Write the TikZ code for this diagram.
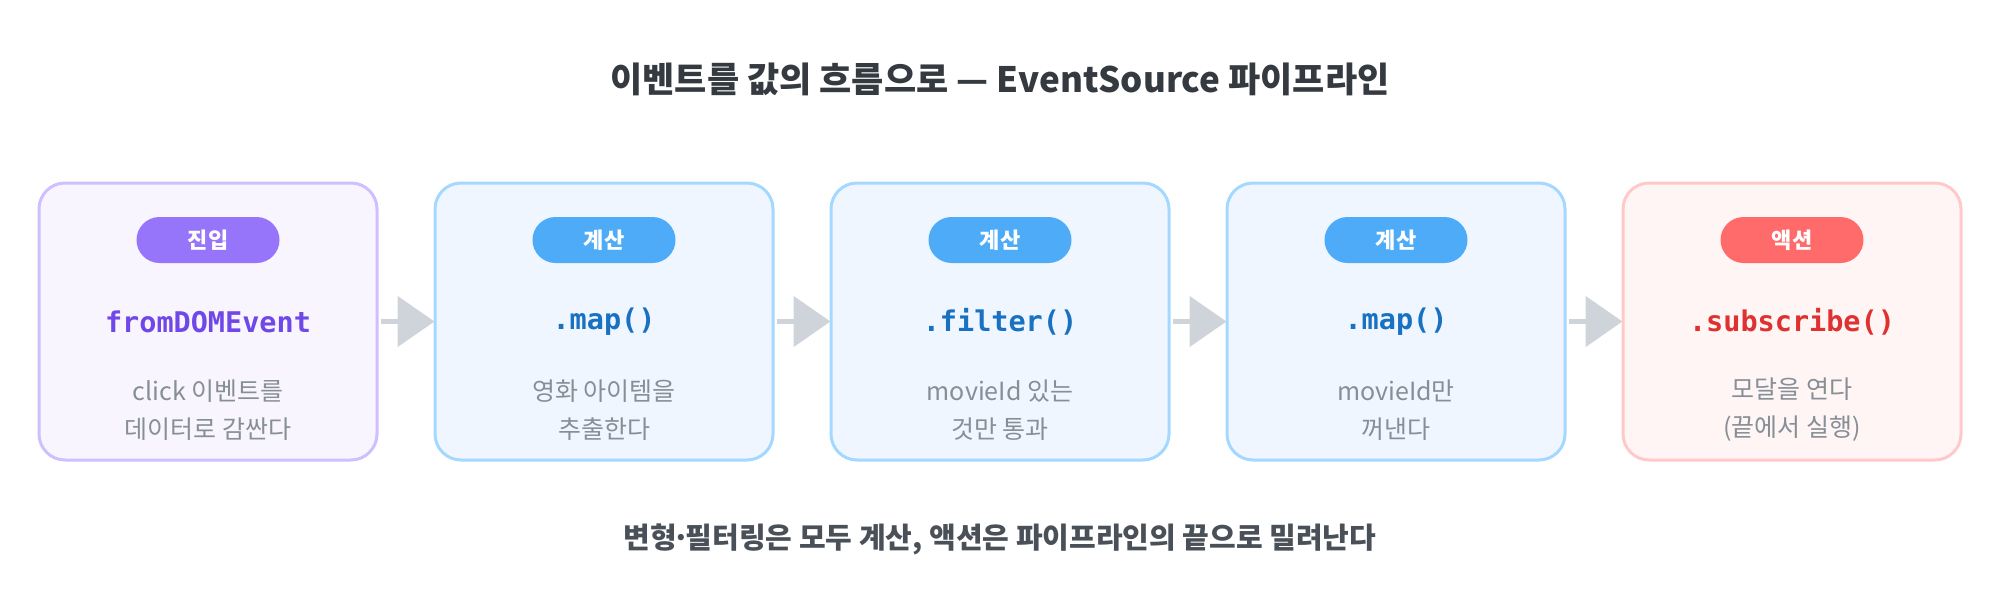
\documentclass[tikz,border=0pt]{standalone}
\usepackage{fontspec}
\setmainfont{Noto Sans CJK KR}
\newfontfamily\codefont{DejaVu Sans Mono}
\usetikzlibrary{arrows.meta}
\definecolor{titlec}{HTML}{343A40}
\definecolor{footc}{HTML}{495057}
\definecolor{descc}{HTML}{868E96}
\definecolor{arrc}{HTML}{CED4DA}
\definecolor{vfill}{HTML}{F8F5FF}
\definecolor{vdraw}{HTML}{D0BFFF}
\definecolor{vpill}{HTML}{9775FA}
\definecolor{vcode}{HTML}{7048E8}
\definecolor{bfill}{HTML}{EFF6FF}
\definecolor{bdraw}{HTML}{A5D8FF}
\definecolor{bpill}{HTML}{4DABF7}
\definecolor{bcode}{HTML}{1971C2}
\definecolor{rfill}{HTML}{FFF5F5}
\definecolor{rdraw}{HTML}{FFC9C9}
\definecolor{rpill}{HTML}{FF6B6B}
\definecolor{rcode}{HTML}{E03131}
\newcommand{\mdot}{\hbox to 0.3em{\hss·\hss}}
\tikzset{
  card/.style={rectangle, rounded corners=26pt, line width=3pt, minimum width=338pt, minimum height=277pt, inner sep=0pt},
  pill/.style={rectangle, rounded corners=23pt, minimum width=143pt, minimum height=46pt, inner sep=0pt, text=white, font=\fontsize{22}{26}\selectfont\bfseries},
  code/.style={font=\codefont\fontsize{28.5}{32}\selectfont\bfseries, inner sep=0pt},
  desc/.style={align=center, text=descc, font=\fontsize{25}{38}\selectfont, inner sep=0pt},
  flow/.style={draw=arrc, line width=5pt, -{Triangle[length=37pt,width=50pt]}, shorten <=2pt, shorten >=-1pt},
}
\begin{document}
\begin{tikzpicture}[x=1pt,y=-1pt]
\useasboundingbox (0,0) rectangle (2000,600);
\node[font=\fontsize{35}{40}\selectfont\bfseries, text=titlec] (title) at (1000,79) {이벤트를 값의 흐름으로 — EventSource 파이프라인};
% cards
\node[card, fill=vfill, draw=vdraw] (b1) at (208,321.5) {};
\node[card, fill=bfill, draw=bdraw] (b2) at (604,321.5) {};
\node[card, fill=bfill, draw=bdraw] (b3) at (1000,321.5) {};
\node[card, fill=bfill, draw=bdraw] (b4) at (1396,321.5) {};
\node[card, fill=rfill, draw=rdraw] (b5) at (1792,321.5) {};
% pills
\node[pill, fill=vpill] (p1) at (208,240) {진입};
\node[pill, fill=bpill] (p2) at (604,240) {계산};
\node[pill, fill=bpill] (p3) at (1000,240) {계산};
\node[pill, fill=bpill] (p4) at (1396,240) {계산};
\node[pill, fill=rpill] (p5) at (1792,240) {액션};
% code
\node[code, text=vcode] (c1) at (208,322) {fromDOMEvent};
\node[code, text=bcode] (c2) at (604,322) {.map()};
\node[code, text=bcode] (c3) at (1000,322) {.filter()};
\node[code, text=bcode] (c4) at (1396,322) {.map()};
\node[code, text=rcode] (c5) at (1792,322) {.subscribe()};
% descriptions
\node[desc] (d1) at (208,410) {click 이벤트를\\데이터로 감싼다};
\node[desc] (d2) at (604,410) {영화 아이템을\\추출한다};
\node[desc] (d3) at (1000,410) {movieId 있는\\것만 통과};
\node[desc] (d4) at (1396,410) {movieId만\\꺼낸다};
\node[desc] (d5) at (1792,410) {모달을 연다\\(끝에서 실행)};
% arrows
\draw[flow] (b1) -- (b2);
\draw[flow] (b2) -- (b3);
\draw[flow] (b3) -- (b4);
\draw[flow] (b4) -- (b5);
\node[font=\fontsize{29}{34}\selectfont\bfseries, text=footc] (foot) at (1000,539) {변형\mdot 필터링은 모두 계산, 액션은 파이프라인의 끝으로 밀려난다};
\end{tikzpicture}
\end{document}
